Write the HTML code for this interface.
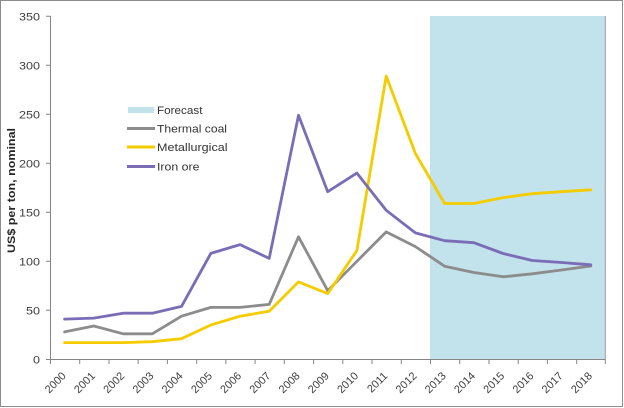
<!DOCTYPE html>
<html><head><meta charset="utf-8"><style>
html,body{margin:0;padding:0;background:#fff;}
svg{display:block;font-family:"Liberation Sans",sans-serif;}
</style></head><body>
<svg width="624" height="408" viewBox="0 0 624 408" xmlns="http://www.w3.org/2000/svg">
<rect x="0.5" y="0.5" width="622" height="406" fill="#fff" stroke="#8c8c8c" stroke-width="1"/>
<rect x="430" y="16" width="175.3" height="343.3" fill="#c2e2ec"/>
<line x1="605.3" y1="16" x2="605.3" y2="359.3" stroke="#9a9a9a" stroke-width="1"/>
<g stroke="#868686" stroke-width="1" fill="none">
<line x1="50.5" y1="16" x2="50.5" y2="359.5"/>
<line x1="50" y1="359.5" x2="605.5" y2="359.5"/>
<path d="M46 16.3H50.5M46 65.3H50.5M46 114.3H50.5M46 163.3H50.5M46 212.3H50.5M46 261.3H50.5M46 310.3H50.5M46 359.5H50.5"/>
<path d="M50.5 359.5V364M79.7 359.5V364M109 359.5V364M138.2 359.5V364M167.4 359.5V364M196.7 359.5V364M225.9 359.5V364M255.1 359.5V364M284.3 359.5V364M313.6 359.5V364M342.8 359.5V364M372 359.5V364M401.3 359.5V364M430.5 359.5V364M459.7 359.5V364M489 359.5V364M518.2 359.5V364M547.4 359.5V364M576.7 359.5V364M605.3 359.5V364"/>
</g>
<g font-size="11" fill="#404040" text-anchor="end">
<text x="40" y="20.5" textLength="21" lengthAdjust="spacingAndGlyphs">350</text>
<text x="40" y="69.5" textLength="21" lengthAdjust="spacingAndGlyphs">300</text>
<text x="40" y="118.5" textLength="21" lengthAdjust="spacingAndGlyphs">250</text>
<text x="40" y="167.5" textLength="21" lengthAdjust="spacingAndGlyphs">200</text>
<text x="40" y="216.5" textLength="21" lengthAdjust="spacingAndGlyphs">150</text>
<text x="40" y="265.5" textLength="21" lengthAdjust="spacingAndGlyphs">100</text>
<text x="40" y="314.5" textLength="14" lengthAdjust="spacingAndGlyphs">50</text>
<text x="40" y="363.5" textLength="7" lengthAdjust="spacingAndGlyphs">0</text>
</g>
<g font-size="11" fill="#404040" text-anchor="end">
<text transform="translate(66.6,376.5) rotate(-45)">2000</text>
<text transform="translate(95.8,376.5) rotate(-45)">2001</text>
<text transform="translate(125.1,376.5) rotate(-45)">2002</text>
<text transform="translate(154.3,376.5) rotate(-45)">2003</text>
<text transform="translate(183.5,376.5) rotate(-45)">2004</text>
<text transform="translate(212.8,376.5) rotate(-45)">2005</text>
<text transform="translate(242,376.5) rotate(-45)">2006</text>
<text transform="translate(271.2,376.5) rotate(-45)">2007</text>
<text transform="translate(300.5,376.5) rotate(-45)">2008</text>
<text transform="translate(329.7,376.5) rotate(-45)">2009</text>
<text transform="translate(358.9,376.5) rotate(-45)">2010</text>
<text transform="translate(388.2,376.5) rotate(-45)">2011</text>
<text transform="translate(417.4,376.5) rotate(-45)">2012</text>
<text transform="translate(446.6,376.5) rotate(-45)">2013</text>
<text transform="translate(475.8,376.5) rotate(-45)">2014</text>
<text transform="translate(505.1,376.5) rotate(-45)">2015</text>
<text transform="translate(534.3,376.5) rotate(-45)">2016</text>
<text transform="translate(563.5,376.5) rotate(-45)">2017</text>
<text transform="translate(592.8,376.5) rotate(-45)">2018</text>
</g>
<text transform="translate(15,190.5) rotate(-90)" font-size="11" font-weight="bold" fill="#262626" text-anchor="middle" textLength="125" lengthAdjust="spacingAndGlyphs">US$ per ton, nominal</text>
<g fill="none" stroke-width="2.8" stroke-linejoin="round" stroke-linecap="round">
<polyline stroke="#8c8c8c" points="64.6,331.9 93.8,326 123.1,333.8 152.3,333.8 181.5,316.2 210.8,307.4 240,307.4 269.2,304.4 298.5,236.8 327.7,290.7 356.9,261.3 386.2,231.9 415.4,246.6 444.6,266.2 473.8,272.5 503.1,276.8 532.3,273.8 561.5,270 590.8,266"/>
<polyline stroke="#f5cc00" points="64.6,342.6 93.8,342.6 123.1,342.6 152.3,341.7 181.5,338.7 210.8,325 240,316.2 269.2,311.3 298.5,281.9 327.7,293.6 356.9,250.5 386.2,76.1 415.4,153.5 444.6,203.5 473.8,203.5 503.1,197.6 532.3,193.7 561.5,191.7 590.8,189.8"/>
<polyline stroke="#7a6db5" points="64.6,319.1 93.8,318.1 123.1,313.2 152.3,313.2 181.5,306.4 210.8,253.4 240,244.6 269.2,258.4 298.5,115.3 327.7,191.7 356.9,173.1 386.2,210.3 415.4,232.9 444.6,240.7 473.8,242.7 503.1,253.5 532.3,260.5 561.5,262.5 590.8,264.8"/>
</g>
<rect x="128" y="107" width="26" height="6" fill="#c2e2ec"/>
<g stroke-width="3" stroke-linecap="butt">
<line x1="127" y1="128.5" x2="155" y2="128.5" stroke="#8c8c8c"/>
<line x1="127" y1="147" x2="155" y2="147" stroke="#f5cc00"/>
<line x1="127" y1="166.5" x2="155" y2="166.5" stroke="#7a6db5"/>
</g>
<g font-size="11" fill="#333">
<text x="157" y="114" textLength="45.5" lengthAdjust="spacingAndGlyphs">Forecast</text>
<text x="157" y="132.5" textLength="70" lengthAdjust="spacingAndGlyphs">Thermal coal</text>
<text x="157" y="151" textLength="70.5" lengthAdjust="spacingAndGlyphs">Metallurgical</text>
<text x="157" y="170.5" textLength="42.5" lengthAdjust="spacingAndGlyphs">Iron ore</text>
</g>
</svg>
</body></html>
